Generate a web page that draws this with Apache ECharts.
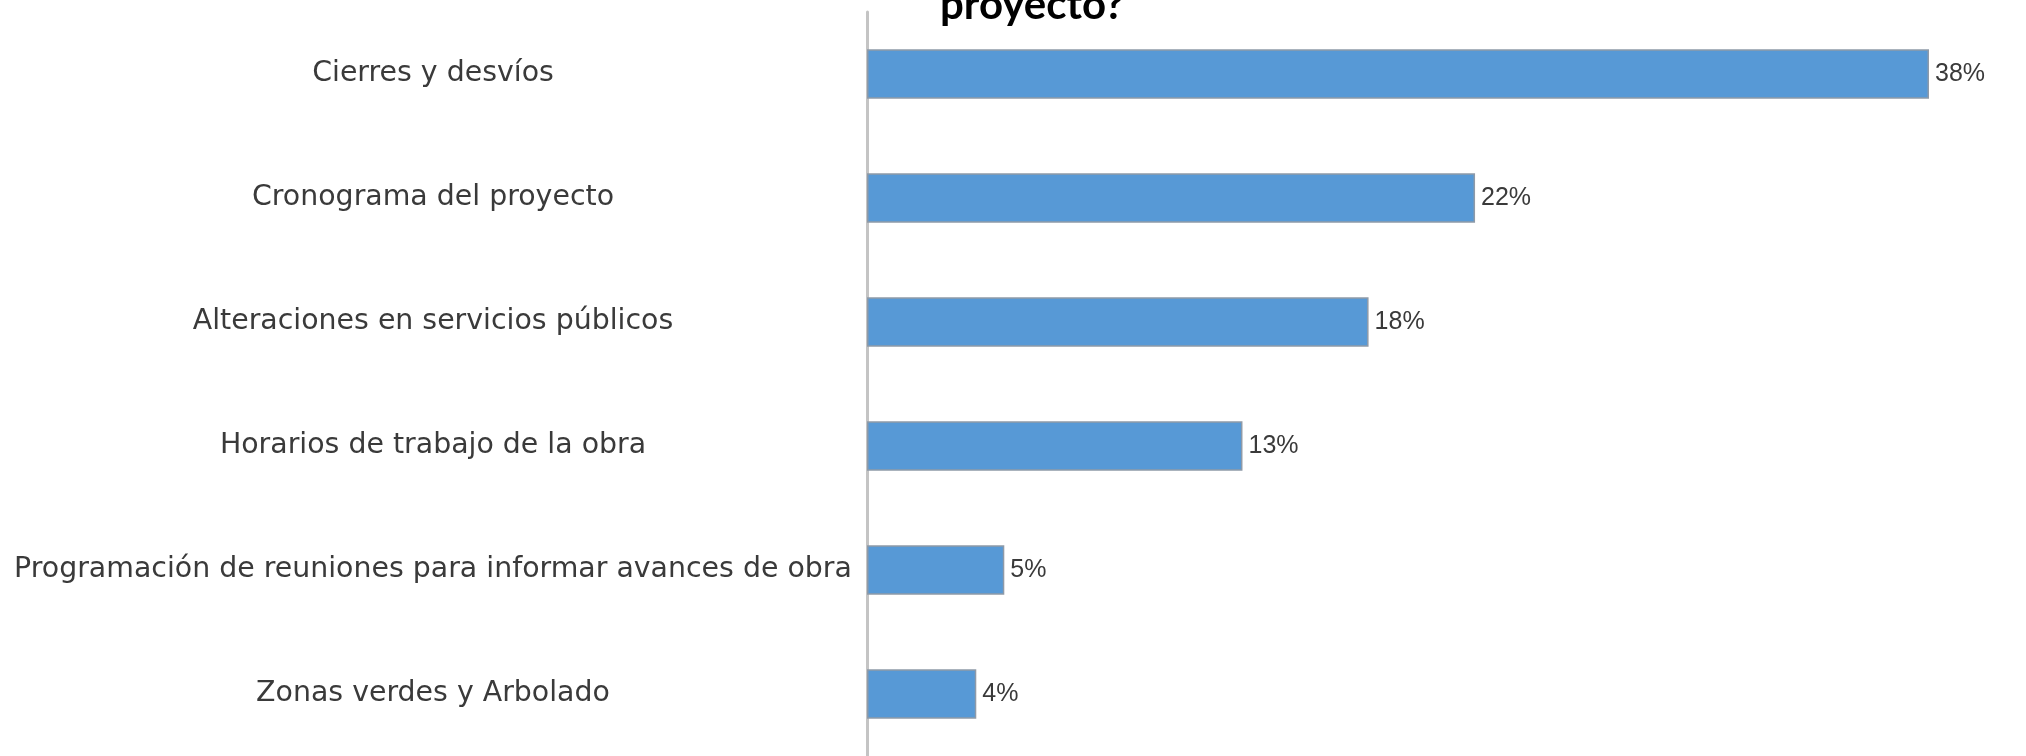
<!DOCTYPE html>
<html>
<head>
<meta charset="utf-8">
<script src="https://cdn.jsdelivr.net/npm/echarts@6/dist/echarts.min.js"></script>
<style>
html,body{margin:0;padding:0;background:#fff;}
#c{width:2026px;height:756px;}
</style>
</head>
<body>
<div id="c"></div>
<script>
const titleText = 'proyecto?';
const categories = [
  'Cierres y desvíos',
  'Cronograma del proyecto',
  'Alteraciones en servicios públicos',
  'Horarios de trabajo de la obra',
  'Programación de reuniones para informar avances de obra',
  'Zonas verdes y Arbolado'
];
// bar lengths; labels show them rounded
const values = [37.9, 21.7, 17.9, 13.4, 4.9, 3.9];

const chart = echarts.init(document.getElementById('c'));
chart.setOption({
  backgroundColor: '#fff',
  animation: false,
  graphic: [{
    type: 'text',
    left: 940,
    top: -16,
    style: {
      text: titleText,
      font: 'bold 42px Lato',
      fill: '#000'
    }
  }],
  grid: { left: 867, right: 97, top: 12, bottom: 0, containLabel: false },
  xAxis: {
    type: 'value', min: 0, max: 37.9,
    show: false
  },
  yAxis: {
    type: 'category',
    inverse: true,
    data: categories,
    axisLine: { show: true, lineStyle: { color: '#c4c4c4', width: 3 } },
    axisTick: { show: false },
    axisLabel: {
      align: 'center',
      margin: 434,
      fontFamily: 'DejaVu Sans',
      fontSize: 28.4,
      color: '#3a3a3a'
    }
  },
  series: [{
    type: 'bar',
    data: values,
    barCategoryGap: '60%',
    itemStyle: { color: '#5799d6', borderColor: '#8e9aa8', borderWidth: 1.5 },
    label: {
      show: true,
      position: 'right',
      distance: 6,
      formatter: function (p) { return Math.round(p.value) + '%'; },
      fontFamily: 'Liberation Sans',
      fontSize: 25,
      color: '#3a3a3a'
    }
  }]
});
</script>
</body>
</html>
